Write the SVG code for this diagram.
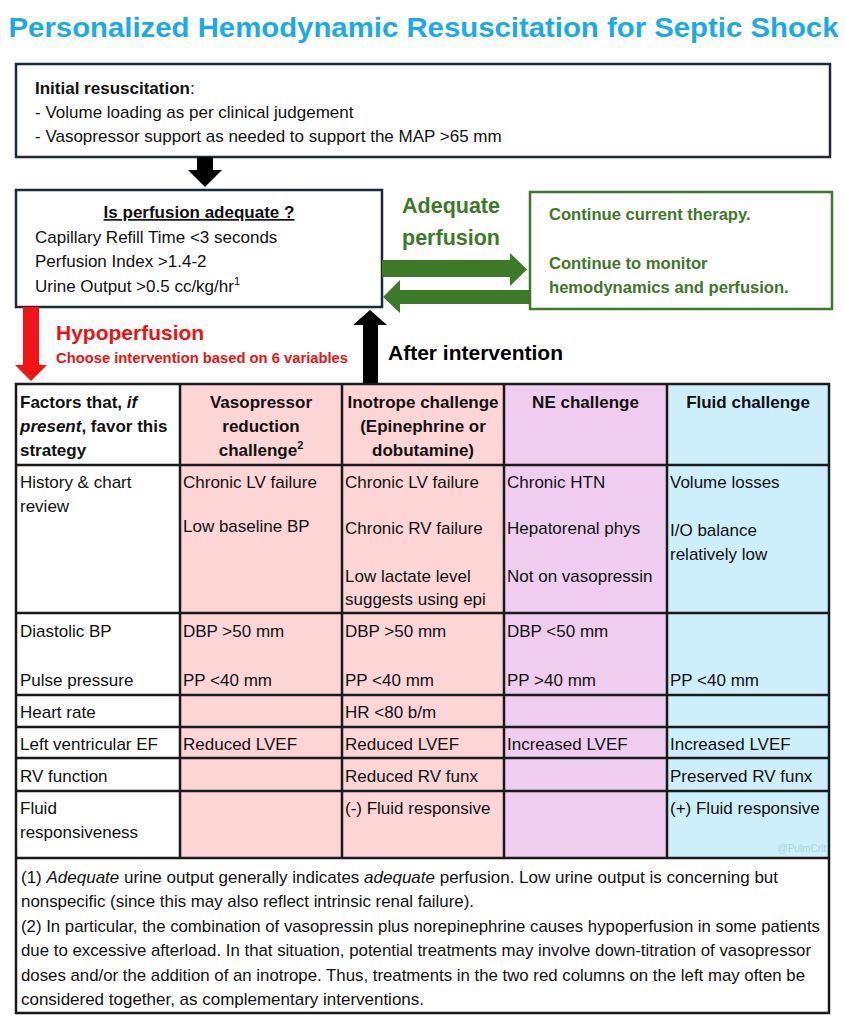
<svg xmlns="http://www.w3.org/2000/svg" width="845" height="1023" viewBox="0 0 845 1023">
<style>
text{font-family:"Liberation Sans",Arial,sans-serif;}
.t{font-size:17px;fill:#111;}
.b{font-weight:bold;}
.c{text-anchor:middle;}
.box{fill:#fff;stroke:#1c2b3a;stroke-width:2.5;}
.grid{stroke:#1a1a1a;stroke-width:2.5;fill:none;}
.g{fill:#3c7a27;}
.fn{font-size:17px;fill:#111;}
</style>
<rect width="845" height="1023" fill="#fff"/>
<text x="423.5" y="37" class="b c" style="font-size:28.5px;fill:#1aabe6" textLength="830" lengthAdjust="spacingAndGlyphs">Personalized Hemodynamic Resuscitation for Septic Shock</text>

<g id="initial">
<rect class="box" x="16" y="64" width="814" height="93"/>
<text class="t" x="35" y="94"><tspan class="b">Initial resuscitation</tspan>:</text>
<text class="t" x="35" y="118">- Volume loading as per clinical judgement</text>
<text class="t" x="35" y="142">- Vasopressor support as needed to support the MAP &gt;65 mm</text>
</g>

<g id="perfusion">
<rect class="box" x="16" y="190" width="366" height="117"/>
<text class="t b c" x="199" y="218" text-decoration="underline">Is perfusion adequate ?</text>
<text class="t" x="35" y="243">Capillary Refill Time &lt;3 seconds</text>
<text class="t" x="35" y="267">Perfusion Index &gt;1.4-2</text>
<text class="t" x="35" y="292">Urine Output &gt;0.5 cc/kg/hr<tspan font-size="11" dy="-7">1</tspan></text>
</g>

<g id="continue">
<rect x="530" y="192" width="302" height="117" fill="#fff" stroke="#3c7a27" stroke-width="2.5"/>
<text class="b g" x="549" y="220" font-size="16.6">Continue current therapy.</text>
<text class="b g" x="549" y="269" font-size="16.6">Continue to monitor</text>
<text class="b g" x="549" y="293" font-size="16.6">hemodynamics and perfusion.</text>
</g>

<g id="connectors">
<polygon fill="#000" points="197,157 213,157 213,170 222,170 205,187 188,170 197,170"/>
<polygon fill="#f21414" points="23,307 39,307 39,365 47,365 31,381 15,365 23,365"/>
<polygon fill="#000" points="363,384 378,384 378,325 387,325 370,310 353,325 363,325"/>
<polygon fill="#3c7a27" points="382,260 510,260 510,253 527,269.5 510,286 510,277 382,277"/>
<polygon fill="#3c7a27" points="530,290 400,290 400,280 383,297 400,313 400,304 530,304"/>
<text class="b g c" x="451" y="213" font-size="21.5">Adequate</text>
<text class="b g c" x="451" y="245" font-size="21.5">perfusion</text>
<text class="b" x="56" y="340" font-size="21" fill="#ee1111">Hypoperfusion</text>
<text class="b" x="56" y="363" font-size="14.7" fill="#ee1111" textLength="292" lengthAdjust="spacingAndGlyphs">Choose intervention based on 6 variables</text>
<text class="b" x="388" y="360" font-size="21" fill="#000">After intervention</text>
</g>

<g id="table">
<rect x="16" y="384" width="164" height="474" fill="#fff"/>
<rect x="180" y="384" width="324" height="474" fill="#fdd5d5"/>
<rect x="504" y="384" width="163" height="474" fill="#efcdef"/>
<rect x="667" y="384" width="162" height="474" fill="#cdeefb"/>
<rect x="16" y="858" width="813" height="155" fill="#fff"/>
<path class="grid" d="M16,384H829V1013H16Z M180,384V858 M342,384V858 M504,384V858 M667,384V858 M16,465H829 M16,613H829 M16,695H829 M16,727H829 M16,758H829 M16,791H829 M16,858H829"/>

<text class="t b" x="20" y="408">Factors that, <tspan font-style="italic">if</tspan></text>
<text class="t b" x="20" y="432"><tspan font-style="italic">present</tspan>, favor this</text>
<text class="t b" x="20" y="456">strategy</text>
<text class="t b c" x="261" y="408">Vasopressor</text>
<text class="t b c" x="261" y="432">reduction</text>
<text class="t b c" x="261" y="456">challenge<tspan font-size="11" dy="-7">2</tspan></text>
<text class="t b c" x="423" y="408">Inotrope challenge</text>
<text class="t b c" x="423" y="432">(Epinephrine or</text>
<text class="t b c" x="423" y="456">dobutamine)</text>
<text class="t b c" x="585.5" y="408">NE challenge</text>
<text class="t b c" x="748" y="408">Fluid challenge</text>

<text class="t" x="20" y="488">History &amp; chart</text>
<text class="t" x="20" y="512">review</text>
<text class="t" x="183" y="488">Chronic LV failure</text>
<text class="t" x="183" y="532">Low baseline BP</text>
<text class="t" x="345" y="488">Chronic LV failure</text>
<text class="t" x="345" y="534">Chronic RV failure</text>
<text class="t" x="345" y="582">Low lactate level</text>
<text class="t" x="345" y="605">suggests using epi</text>
<text class="t" x="507" y="488">Chronic HTN</text>
<text class="t" x="507" y="534">Hepatorenal phys</text>
<text class="t" x="507" y="582">Not on vasopressin</text>
<text class="t" x="670" y="488">Volume losses</text>
<text class="t" x="670" y="536">I/O balance</text>
<text class="t" x="670" y="560">relatively low</text>

<text class="t" x="20" y="637">Diastolic BP</text>
<text class="t" x="20" y="686">Pulse pressure</text>
<text class="t" x="183" y="637">DBP &gt;50 mm</text>
<text class="t" x="183" y="686">PP &lt;40 mm</text>
<text class="t" x="345" y="637">DBP &gt;50 mm</text>
<text class="t" x="345" y="686">PP &lt;40 mm</text>
<text class="t" x="507" y="637">DBP &lt;50 mm</text>
<text class="t" x="507" y="686">PP &gt;40 mm</text>
<text class="t" x="670" y="686">PP &lt;40 mm</text>

<text class="t" x="20" y="718">Heart rate</text>
<text class="t" x="345" y="718">HR &lt;80 b/m</text>

<text class="t" x="20" y="750">Left ventricular EF</text>
<text class="t" x="183" y="750">Reduced LVEF</text>
<text class="t" x="345" y="750">Reduced LVEF</text>
<text class="t" x="507" y="750">Increased LVEF</text>
<text class="t" x="670" y="750">Increased LVEF</text>

<text class="t" x="20" y="782">RV function</text>
<text class="t" x="345" y="782">Reduced RV funx</text>
<text class="t" x="670" y="782">Preserved RV funx</text>

<text class="t" x="20" y="814">Fluid</text>
<text class="t" x="20" y="838">responsiveness</text>
<text class="t" x="345" y="814">(-) Fluid responsive</text>
<text class="t" x="670" y="814">(+) Fluid responsive</text>
<text x="826" y="852" font-size="10" fill="#a6d6e8" text-anchor="end">@PulmCrit</text>

<text class="fn" x="21" y="883">(1) <tspan font-style="italic">Adequate</tspan> urine output generally indicates <tspan font-style="italic">adequate</tspan> perfusion. Low urine output is concerning but</text>
<text class="fn" x="21" y="907" textLength="453" lengthAdjust="spacingAndGlyphs">nonspecific (since this may also reflect intrinsic renal failure).</text>
<text class="fn" x="21" y="932" textLength="799" lengthAdjust="spacingAndGlyphs">(2) In particular, the combination of vasopressin plus norepinephrine causes hypoperfusion in some patients</text>
<text class="fn" x="21" y="956" textLength="790" lengthAdjust="spacingAndGlyphs">due to excessive afterload. In that situation, potential treatments may involve down-titration of vasopressor</text>
<text class="fn" x="21" y="981" textLength="784" lengthAdjust="spacingAndGlyphs">doses and/or the addition of an inotrope. Thus, treatments in the two red columns on the left may often be</text>
<text class="fn" x="21" y="1005" textLength="403" lengthAdjust="spacingAndGlyphs">considered together, as complementary interventions.</text>
</g>
</svg>
